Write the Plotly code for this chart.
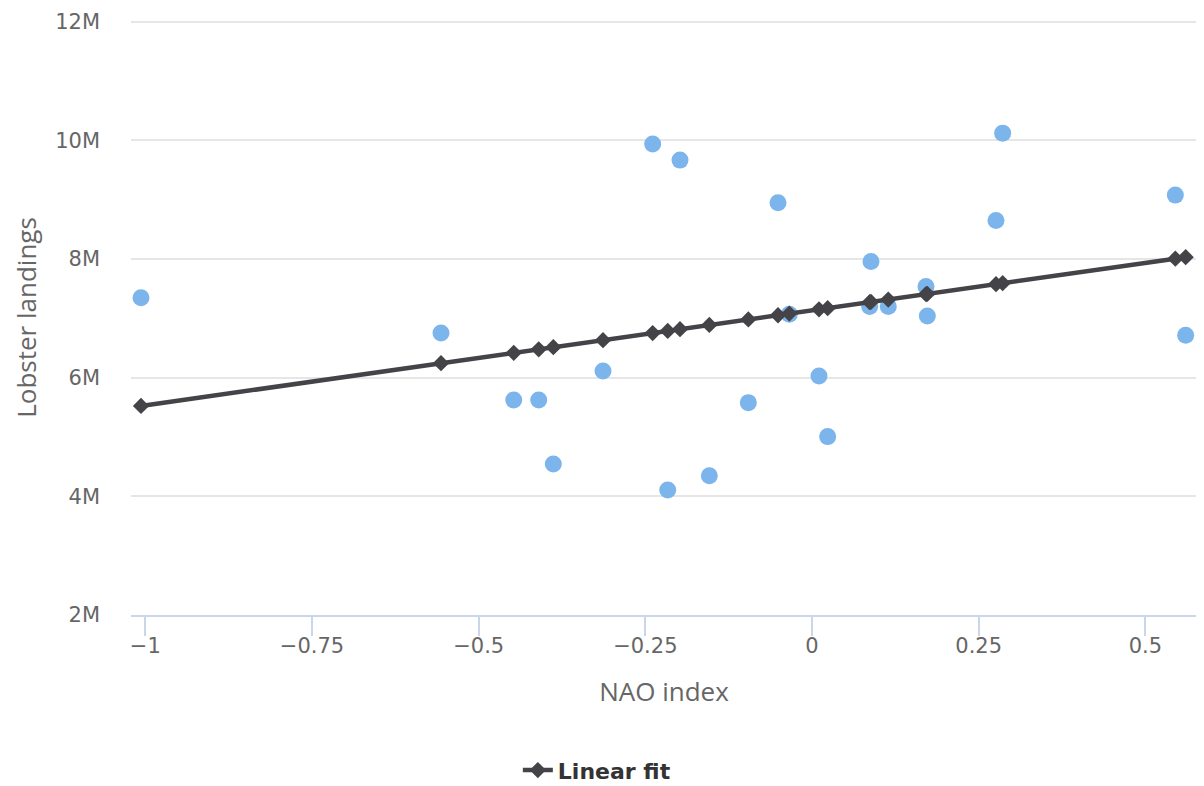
import plotly.graph_objects as go

nao_index = [-1.0065, -0.5565, -0.4474, -0.4099, -0.388, -0.3135, -0.239, -0.2164,
             -0.198, -0.154, -0.0955, -0.051, -0.034, 0.0105, 0.0235, 0.0865,
             0.0885, 0.1144, 0.171, 0.173, 0.276, 0.286, 0.545, 0.5605]
landings = [7.346e6, 6.755e6, 5.626e6, 5.626e6, 4.546e6, 6.115e6, 9.938e6, 4.108e6,
            9.668e6, 4.349e6, 5.580e6, 8.948e6, 7.071e6, 6.030e6, 5.007e6, 7.199e6,
            7.958e6, 7.199e6, 7.536e6, 7.042e6, 8.649e6, 10.123e6, 9.078e6, 6.717e6]
fit_values = [5.524e6, 6.244e6, 6.419e6, 6.479e6, 6.514e6, 6.633e6, 6.752e6, 6.789e6,
              6.818e6, 6.889e6, 6.982e6, 7.053e6, 7.081e6, 7.152e6, 7.173e6, 7.273e6,
              7.277e6, 7.318e6, 7.409e6, 7.412e6, 7.577e6, 7.593e6, 8.007e6, 8.032e6]

x_ticks = [-1, -0.75, -0.5, -0.25, 0, 0.25, 0.5]
x_tick_labels = ["−1", "−0.75", "−0.5", "−0.25", "0", "0.25", "0.5"]
y_ticks = [2e6, 4e6, 6e6, 8e6, 10e6, 12e6]
y_tick_labels = ["2M", "4M", "6M", "8M", "10M", "12M"]

fig = go.Figure()
fig.add_trace(go.Scatter(
    x=nao_index, y=landings, mode="markers", name="Observations",
    marker=dict(color="#7cb5ec", size=17, line=dict(width=0)),
    showlegend=False))
fig.add_trace(go.Scatter(
    x=nao_index, y=fit_values, mode="lines+markers", name="Linear fit",
    line=dict(color="#434348", width=4.5),
    marker=dict(symbol="diamond", color="#434348", size=12.5)))

fig.update_layout(
    width=1196, height=778,
    margin=dict(l=123, r=7, t=12, b=171, autoexpand=False),
    paper_bgcolor="white", plot_bgcolor="white",
    font=dict(family="DejaVu Sans", color="#666666", size=21),
    showlegend=True,
    legend=dict(orientation="h", x=0.437, xanchor="center", y=-0.261, yanchor="middle",
                font=dict(family="DejaVu Sans", size=22, color="#333333", weight="bold")),
    xaxis=dict(range=[-1.0215, 0.5775], tickvals=x_ticks, ticktext=x_tick_labels,
               showgrid=False, zeroline=False, showline=True, linecolor="#ccd6eb",
               linewidth=2, ticks="outside", ticklen=19, tickwidth=2, tickcolor="#ccd6eb",
               ticklabelstandoff=-8,
               tickfont=dict(family="DejaVu Sans", size=21, color="#666666"),
               title=dict(text="NAO index", standoff=26,
                          font=dict(family="Open Sans", size=26, color="#666666"))),
    yaxis=dict(range=[2e6, 12.03e6], tickvals=y_ticks, ticktext=y_tick_labels,
               showgrid=True, gridcolor="#e6e6e6", gridwidth=2, zeroline=False,
               showline=False, ticks="", ticklabelstandoff=30,
               tickfont=dict(family="DejaVu Sans", size=21, color="#666666"),
               title=dict(text="Lobster landings", standoff=13,
                          font=dict(family="Open Sans", size=26, color="#666666"))),
)

fig.write_html("out.html")
